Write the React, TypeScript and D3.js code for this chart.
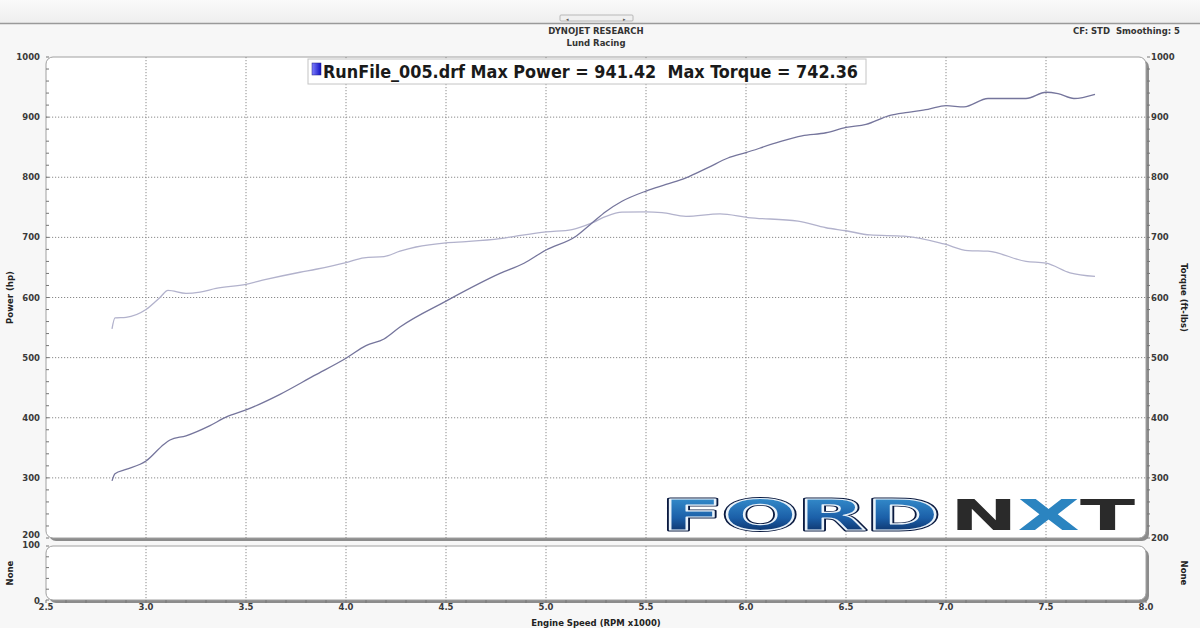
import React, { useEffect, useRef } from 'react';
import * as d3 from 'd3';

// engine speed (x1000 rpm) and readings
const powerRpm = [2.83, 2.845, 2.9, 3.0, 3.09, 3.12, 3.2, 3.32, 3.4, 3.5, 3.67, 3.84, 4.0, 4.1, 4.19, 4.27, 4.5, 4.77, 4.89, 5.0, 5.15, 5.23, 5.3, 5.38, 5.5, 5.6, 5.7, 5.81, 5.91, 6.0, 6.15, 6.28, 6.4, 6.5, 6.6, 6.72, 6.81, 6.91, 7.0, 7.09, 7.21, 7.4, 7.5, 7.56, 7.64, 7.745];
const powerHp = [295, 307, 314, 328, 356, 363, 370, 387, 401, 413, 439, 470, 499, 520, 531, 551, 594, 640, 657, 679, 702, 724, 743, 760, 777, 788, 799, 816, 832, 841, 857, 869, 874, 883, 888, 903, 908, 913, 919, 917, 931, 931, 941.4, 939, 931, 938];

const torqueRpm = [2.83, 2.845, 2.9, 3.0, 3.07, 3.11, 3.2, 3.27, 3.35, 3.5, 3.6, 3.77, 3.85, 4.0, 4.09, 4.19, 4.27, 4.35, 4.5, 4.6, 4.77, 4.85, 5.0, 5.13, 5.23, 5.3, 5.38, 5.5, 5.58, 5.7, 5.87, 6.01, 6.26, 6.4, 6.5, 6.62, 6.79, 6.99, 7.11, 7.21, 7.4, 7.5, 7.62, 7.745];
const torqueFt = [548, 566, 567, 580, 600, 612, 607, 609, 615, 622, 630, 642, 647, 658, 666, 668, 677, 684, 691, 693, 698, 702, 709, 713, 724, 735, 742, 742.4, 741, 735, 739, 733, 727, 716, 711, 704, 702, 689, 678, 677, 660, 657, 641, 635];

const xTicks = [2.5, 3.0, 3.5, 4.0, 4.5, 5.0, 5.5, 6.0, 6.5, 7.0, 7.5, 8.0];
const yTicks = [300, 400, 500, 600, 700, 800, 900, 1000];
const noneTicks = [0, 100];

const legendText = 'RunFile_005.drf Max Power = 941.42\u00a0\u00a0Max Torque = 742.36';

const App: React.FC = () => {
  const svgRef = useRef<SVGSVGElement>(null);

  useEffect(() => {
    const W = 1200, H = 628;
    const svg = d3.select(svgRef.current).attr('width', W).attr('height', H);
    svg.selectAll('*').remove();

    const left = 46, right = 1146;
    const top = 57, bottom = 538;
    const lowTop = 546, lowBottom = 600;
    const font = 'DejaVu Sans, Verdana, sans-serif';

    const x = d3.scaleLinear().domain([2.5, 8.0]).range([left, right]);
    const y = d3.scaleLinear().domain([200, 1000]).range([bottom, top]);
    const yLow = d3.scaleLinear().domain([0, 100]).range([lowBottom, lowTop]);

    const defs = svg.append('defs');
    const hdr = defs.append('linearGradient').attr('id', 'hdr').attr('x1', 0).attr('x2', 0).attr('y1', 0).attr('y2', 1);
    hdr.append('stop').attr('offset', 0).attr('stop-color', '#fafafa');
    hdr.append('stop').attr('offset', 1).attr('stop-color', '#eeeeee');
    const fordG = defs.append('linearGradient').attr('id', 'fordG').attr('x1', 0).attr('x2', 0).attr('y1', 0).attr('y2', 1);
    fordG.append('stop').attr('offset', 0).attr('stop-color', '#3c9ad6');
    fordG.append('stop').attr('offset', 0.55).attr('stop-color', '#1b5fa8');
    fordG.append('stop').attr('offset', 1).attr('stop-color', '#071c4a');
    const icon = defs.append('linearGradient').attr('id', 'icon').attr('x1', 0).attr('x2', 1);
    icon.append('stop').attr('offset', 0).attr('stop-color', '#8080ff');
    icon.append('stop').attr('offset', 1).attr('stop-color', '#1010c0');

    // page background
    svg.append('rect').attr('width', W).attr('height', H).attr('fill', '#f7f7f7');
    svg.append('rect').attr('width', W).attr('height', 23).attr('fill', 'url(#hdr)');
    svg.append('line').attr('x1', 0).attr('x2', W).attr('y1', 23.5).attr('y2', 23.5).attr('stroke', '#9a9a9a').attr('stroke-width', 1.5);
    svg.append('rect').attr('x', 560).attr('y', 15).attr('width', 73).attr('height', 6).attr('rx', 1)
      .attr('fill', '#f0f0f0').attr('stroke', '#aaa').attr('stroke-width', 0.8);
    svg.append('text').attr('x', 566).attr('y', 20.5).attr('font-size', 5).attr('fill', '#555').text('◂');
    svg.append('text').attr('x', 623).attr('y', 20.5).attr('font-size', 5).attr('fill', '#555').text('▸');

    // header texts
    svg.append('text').attr('x', 596).attr('y', 34).attr('text-anchor', 'middle')
      .attr('font-family', font).attr('font-size', 8.5).attr('font-weight', 'bold').attr('fill', '#333').text('DYNOJET RESEARCH');
    svg.append('text').attr('x', 596).attr('y', 46).attr('text-anchor', 'middle')
      .attr('font-family', font).attr('font-size', 8.5).attr('font-weight', 'bold').attr('fill', '#333').text('Lund Racing');
    svg.append('text').attr('x', 1180).attr('y', 34).attr('text-anchor', 'end')
      .attr('font-family', font).attr('font-size', 8.5).attr('font-weight', 'bold').attr('fill', '#333').text('CF: STD\u00a0\u00a0Smoothing: 5');

    // panels with shadow
    const panel = (y0: number, y1: number) => {
      svg.append('rect').attr('x', left + 3).attr('y', y0 + 3).attr('width', right - left).attr('height', y1 - y0)
        .attr('rx', 7).attr('fill', '#8c8c8c');
      svg.append('rect').attr('x', left).attr('y', y0).attr('width', right - left).attr('height', y1 - y0)
        .attr('rx', 7).attr('fill', '#ffffff').attr('stroke', '#a0a0a0').attr('stroke-width', 1);
    };
    panel(top, bottom);
    panel(lowTop, lowBottom);

    const grid = svg.append('g').attr('stroke', '#8a8a8a').attr('stroke-width', 1).attr('stroke-dasharray', '1.2,1.8');
    xTicks.slice(1, -1).forEach(t => {
      grid.append('line').attr('x1', x(t)).attr('x2', x(t)).attr('y1', top).attr('y2', bottom);
      grid.append('line').attr('x1', x(t)).attr('x2', x(t)).attr('y1', lowTop).attr('y2', lowBottom);
    });
    yTicks.slice(0, -1).forEach(t => {
      grid.append('line').attr('x1', left).attr('x2', right).attr('y1', y(t)).attr('y2', y(t));
    });

    // minor ticks
    const minor = svg.append('g').attr('stroke', '#777').attr('stroke-width', 1);
    d3.range(200, 1001, 20).forEach(v => {
      minor.append('line').attr('x1', left).attr('x2', left + 3).attr('y1', y(v)).attr('y2', y(v));
      minor.append('line').attr('x1', right + 1).attr('x2', right + 4).attr('y1', y(v)).attr('y2', y(v));
    });
    d3.range(0, 101, 20).forEach(v => {
      minor.append('line').attr('x1', left).attr('x2', left + 3).attr('y1', yLow(v)).attr('y2', yLow(v));
    });
    d3.range(25, 81, 1).forEach(i => {
      const r = i / 10;
      minor.append('line').attr('x1', x(r)).attr('x2', x(r)).attr('y1', lowBottom).attr('y2', lowBottom + 3);
    });

    // tick labels
    const lab = svg.append('g').attr('font-family', font).attr('font-size', 8.5).attr('font-weight', 'bold').attr('fill', '#3a3a3a');
    yTicks.forEach(t => {
      lab.append('text').attr('x', 40).attr('y', y(t) + 3).attr('text-anchor', 'end').text(t);
      lab.append('text').attr('x', 1151).attr('y', y(t) + 3).text(t);
    });
    lab.append('text').attr('x', 40).attr('y', y(200)).attr('text-anchor', 'end').text('200');
    lab.append('text').attr('x', 1151).attr('y', y(200) + 3).text('200');
    noneTicks.forEach(t => {
      lab.append('text').attr('x', 40).attr('y', yLow(t) + (t === 100 ? 2 : 4)).attr('text-anchor', 'end').text(t);
    });
    xTicks.forEach(t => {
      lab.append('text').attr('x', x(t)).attr('y', 610).attr('text-anchor', 'middle').text(d3.format('.1f')(t));
    });

    // axis titles
    const ttl = svg.append('g').attr('font-family', font).attr('font-size', 8.5).attr('font-weight', 'bold').attr('fill', '#222');
    ttl.append('text').attr('x', 596).attr('y', 626).attr('text-anchor', 'middle').text('Engine Speed (RPM x1000)');
    ttl.append('text').attr('transform', `translate(13,${(top + bottom) / 2}) rotate(-90)`).attr('text-anchor', 'middle').text('Power (hp)');
    ttl.append('text').attr('transform', `translate(1181,${(top + bottom) / 2}) rotate(90)`).attr('text-anchor', 'middle').text('Torque (ft-lbs)');
    ttl.append('text').attr('transform', `translate(13,${(lowTop + lowBottom) / 2}) rotate(-90)`).attr('text-anchor', 'middle').text('None');
    ttl.append('text').attr('transform', `translate(1181,${(lowTop + lowBottom) / 2}) rotate(90)`).attr('text-anchor', 'middle').text('None');

    // logo: outlined wide letters
    const logo = svg.append('g').attr('font-family', 'DejaVu Sans, sans-serif').attr('font-weight', 'bold');
    const ford = (stroke: string, sw: number, fill: string) =>
      logo.append('text').attr('x', 662).attr('y', 530).attr('font-size', 42)
        .attr('textLength', 278).attr('lengthAdjust', 'spacingAndGlyphs')
        .attr('fill', fill).attr('stroke', stroke).attr('stroke-width', sw).attr('stroke-linejoin', 'round').text('FORD');
    ford('#0a1a40', 3, 'none');
    ford('#e8f2fa', 1.2, 'url(#fordG)');
    const nxt = logo.append('text').attr('x', 950).attr('y', 530).attr('font-size', 42)
      .attr('textLength', 185).attr('lengthAdjust', 'spacingAndGlyphs');
    nxt.append('tspan').attr('fill', '#2a2a2a').text('N');
    nxt.append('tspan').attr('fill', '#2b84c0').text('X');
    nxt.append('tspan').attr('fill', '#2a2a2a').text('T');

    // curves
    const line = d3.line<[number, number]>().x(d => x(d[0])).y(d => y(d[1])).curve(d3.curveMonotoneX);
    const torque = torqueRpm.map((r, i) => [r, torqueFt[i]] as [number, number]);
    const power = powerRpm.map((r, i) => [r, powerHp[i]] as [number, number]);
    svg.append('path').datum(torque).attr('d', line).attr('fill', 'none').attr('stroke', '#b2b2cc').attr('stroke-width', 1.3);
    svg.append('path').datum(power).attr('d', line).attr('fill', 'none').attr('stroke', '#75759c').attr('stroke-width', 1.3);

    // legend box
    svg.append('rect').attr('x', 308).attr('y', 59).attr('width', 558).attr('height', 25)
      .attr('fill', '#ffffff').attr('stroke', '#c4c4c4').attr('stroke-width', 1);
    svg.append('rect').attr('x', 312).attr('y', 63).attr('width', 9).attr('height', 12)
      .attr('fill', 'url(#icon)').attr('stroke', '#202080').attr('stroke-width', 0.5);
    svg.append('text').attr('x', 323).attr('y', 78).attr('font-family', 'DejaVu Sans Condensed, DejaVu Sans, sans-serif')
      .attr('font-size', 17).attr('font-weight', 'bold').attr('fill', '#1a1a1a')
      .attr('textLength', 535).attr('lengthAdjust', 'spacingAndGlyphs')
      .text(legendText);
  }, []);

  return <svg ref={svgRef} style={{ position: 'absolute', left: 0, top: 0 }}></svg>;
};

export default App;
